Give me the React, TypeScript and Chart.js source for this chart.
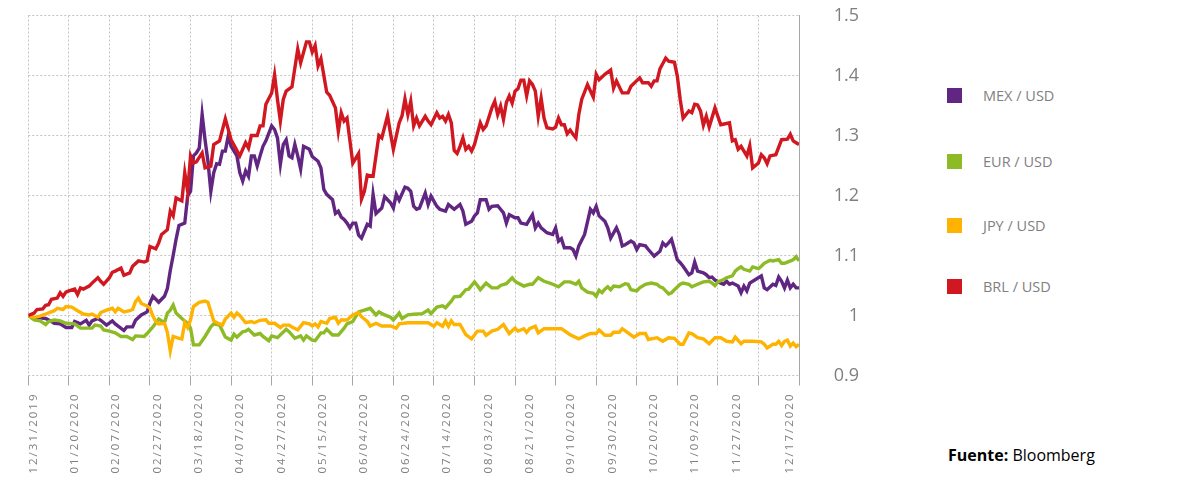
import React, { useEffect, useRef } from 'react';
import { Chart, registerables } from 'chart.js';

Chart.register(...registerables);

// ---- Data ----
const TICK_LABELS = [
  '12/31/2019', '01/20/2020', '02/07/2020', '02/27/2020', '03/18/2020', '04/07/2020',
  '04/27/2020', '05/15/2020', '06/04/2020', '06/24/2020', '07/14/2020', '08/03/2020',
  '08/21/2020', '09/10/2020', '09/30/2020', '10/20/2020', '11/09/2020', '11/27/2020', '12/17/2020',
];
const DAYS_PER_TICK = 14; // business days between labels
const LAST_DAY = 266;

const SERIES_NAMES = ['MEX / USD', 'EUR / USD', 'JPY / USD', 'BRL / USD'];
const SERIES_COLORS = ['#612582', '#8cbb26', '#fdb300', '#d1171f'];

const MEX_DAY = [0,2,4,6,8,9,11,13,15,16,18,20,21,22,24,25,27,29,30,33,34,36,37,39,41,42,43,45,47,48,49,50,51,52,54,55,56,57,58,59,60,61,62,63,64,65,66,67,68,69,70,72,73,74,75,76,77,78,79,80,81,82,84,85,86,87,88,89,90,91,92,93,94,95,97,98,100,101,102,103,105,106,107,108,109,110,111,112,113,114,115,117,118,119,120,122,123,125,126,127,128,130,131,132,133,134,135,137,138,139,141,142,144,145,147,149,150,151,153,154,155,156,158,159,160,162,163,164,165,166,168,169,170,172,173,174,175,176,177,179,181,182,183,184,185,187,188,189,190,192,194,195,196,197,199,200,201,203,204,205,206,208,209,210,211,213,214,216,218,219,220,221,222,224,225,226,228,229,230,231,233,234,235,236,237,239,240,241,242,243,245,246,247,248,249,251,253,254,255,257,258,259,260,261,262,263,264,265,266];
const MEX = [1.000,0.996,0.996,0.995,0.990,0.987,0.986,0.980,0.980,0.990,0.986,0.992,0.984,0.991,0.995,0.992,0.984,0.991,0.986,0.975,0.981,0.981,0.992,1.001,1.006,1.021,1.032,1.022,1.032,1.045,1.075,1.100,1.127,1.150,1.154,1.199,1.207,1.266,1.271,1.279,1.335,1.293,1.257,1.207,1.238,1.253,1.252,1.274,1.274,1.299,1.282,1.266,1.238,1.224,1.241,1.232,1.266,1.266,1.249,1.266,1.282,1.291,1.316,1.310,1.296,1.252,1.285,1.293,1.266,1.263,1.285,1.266,1.244,1.282,1.277,1.265,1.257,1.246,1.210,1.202,1.193,1.170,1.174,1.164,1.160,1.154,1.146,1.154,1.154,1.134,1.129,1.152,1.149,1.202,1.170,1.179,1.198,1.188,1.179,1.202,1.192,1.214,1.212,1.207,1.182,1.177,1.179,1.204,1.185,1.199,1.182,1.177,1.174,1.185,1.177,1.185,1.174,1.152,1.157,1.166,1.171,1.193,1.193,1.177,1.182,1.183,1.177,1.171,1.154,1.168,1.163,1.163,1.154,1.152,1.160,1.168,1.146,1.154,1.146,1.138,1.135,1.146,1.124,1.128,1.113,1.113,1.110,1.099,1.116,1.135,1.177,1.171,1.182,1.166,1.157,1.146,1.129,1.146,1.135,1.116,1.118,1.124,1.121,1.110,1.118,1.116,1.110,1.099,1.107,1.121,1.116,1.121,1.127,1.093,1.088,1.082,1.068,1.071,1.089,1.074,1.071,1.068,1.063,1.064,1.059,1.054,1.052,1.057,1.052,1.054,1.049,1.038,1.049,1.041,1.054,1.060,1.066,1.046,1.043,1.052,1.050,1.064,1.057,1.046,1.059,1.046,1.052,1.046,1.046];

const EUR_DAY = [0,2,4,6,7,9,11,13,16,18,22,23,25,26,28,30,32,34,36,37,40,41,43,45,47,48,49,50,51,53,55,56,57,59,61,63,64,66,68,70,71,72,74,75,76,78,80,81,83,84,86,89,90,92,94,95,96,98,99,101,102,103,105,107,109,110,112,114,116,118,120,121,123,125,126,128,129,131,133,136,138,139,141,143,144,146,147,149,151,152,154,155,156,158,160,162,163,165,167,168,169,171,173,174,176,178,180,181,183,185,187,189,190,191,193,195,196,197,198,199,200,201,202,204,206,207,208,210,211,213,215,217,218,219,221,222,223,225,226,228,229,231,233,235,236,237,238,240,241,243,244,245,246,247,249,250,252,253,254,256,257,259,260,261,262,264,265,266];
const EUR = [1.000,0.9925,0.991,0.985,0.990,0.9925,0.991,0.987,0.986,0.979,0.979,0.984,0.9825,0.976,0.974,0.971,0.965,0.965,0.960,0.966,0.965,0.970,0.981,0.994,0.988,1.004,1.009,1.0175,1.004,0.995,0.987,0.979,0.951,0.951,0.965,0.981,0.986,0.984,0.964,0.959,0.969,0.964,0.973,0.974,0.977,0.9675,0.970,0.965,0.958,0.966,0.963,0.977,0.973,0.962,0.966,0.959,0.966,0.959,0.958,0.971,0.971,0.977,0.9675,0.9675,0.979,0.986,0.990,1.006,1.009,1.012,1.001,1.006,1.001,0.997,0.9925,1.004,0.995,1.001,1.002,1.003,1.009,1.003,1.014,1.016,1.013,1.024,1.031,1.032,1.043,1.044,1.056,1.050,1.043,1.054,1.046,1.046,1.050,1.053,1.063,1.057,1.054,1.049,1.052,1.052,1.063,1.057,1.054,1.052,1.048,1.056,1.056,1.052,1.057,1.046,1.039,1.037,1.032,1.042,1.038,1.044,1.048,1.043,1.049,1.048,1.053,1.052,1.043,1.041,1.046,1.052,1.054,1.052,1.048,1.046,1.036,1.038,1.043,1.052,1.054,1.052,1.048,1.052,1.056,1.057,1.054,1.050,1.056,1.060,1.063,1.066,1.074,1.078,1.081,1.077,1.074,1.081,1.078,1.082,1.087,1.092,1.091,1.093,1.087,1.087,1.089,1.093,1.098,1.091];

const JPY_DAY = [0,2,4,6,9,10,12,13,15,17,19,21,22,24,25,27,29,30,31,33,35,36,37,38,39,41,42,43,44,45,47,48,49,50,52,53,54,55,56,57,59,61,62,64,66,67,68,70,71,72,73,75,77,78,80,82,83,85,87,88,90,91,93,95,97,98,99,100,101,103,104,106,107,108,110,112,114,115,117,118,120,122,125,127,128,131,138,140,141,143,144,145,146,147,149,151,153,155,157,158,160,162,164,166,168,169,171,172,173,175,176,178,180,184,187,190,192,194,196,197,199,201,202,204,205,207,209,211,213,214,217,219,221,223,225,226,228,229,231,233,235,237,239,241,243,244,246,247,250,253,254,255,257,258,259,260,261,262,263,264,265,266];
const JPY = [1.000,0.997,0.999,1.0025,1.008,1.012,1.010,1.015,1.014,1.008,1.0025,1.001,1.0025,0.997,1.005,1.009,1.012,1.006,1.012,1.006,1.008,1.010,1.023,1.029,1.020,1.016,1.012,0.999,0.990,0.986,0.987,0.972,0.941,0.965,0.962,0.961,0.988,0.980,0.993,1.015,1.022,1.024,1.022,0.991,0.986,0.984,0.994,1.004,0.997,1.004,1.000,0.988,0.990,0.988,0.992,0.993,0.987,0.987,0.980,0.984,0.984,0.981,0.976,0.988,0.986,0.9825,0.986,0.981,0.990,0.987,0.995,0.997,0.987,0.9925,0.9925,1.001,1.0047,0.998,0.990,0.9825,0.987,0.9825,0.9825,0.979,0.986,0.988,0.988,0.982,0.988,0.982,0.991,0.982,0.991,0.985,0.985,0.968,0.961,0.974,0.974,0.967,0.974,0.977,0.985,0.970,0.979,0.974,0.978,0.972,0.978,0.982,0.971,0.978,0.978,0.978,0.968,0.961,0.966,0.970,0.970,0.976,0.967,0.967,0.972,0.972,0.978,0.971,0.964,0.970,0.970,0.960,0.963,0.957,0.963,0.962,0.952,0.952,0.971,0.970,0.963,0.961,0.953,0.963,0.963,0.957,0.956,0.964,0.953,0.957,0.957,0.956,0.952,0.946,0.952,0.952,0.957,0.950,0.957,0.959,0.949,0.954,0.948,0.952];

const BRL_DAY = [0,2,3,5,6,7,8,10,11,12,13,14,16,17,18,19,21,22,24,25,26,28,29,30,32,33,35,36,38,40,41,42,44,45,46,48,49,50,51,53,54,55,56,57,58,60,61,63,64,66,68,70,73,75,76,77,79,80,81,82,84,85,86,87,88,89,91,93,94,96,97,98,99,100,101,103,104,106,107,108,109,110,112,114,115,116,117,119,121,122,124,125,126,128,129,130,131,132,133,134,135,137,138,139,141,142,143,144,145,146,147,148,149,150,151,152,153,154,156,157,158,160,161,162,163,164,165,166,167,168,169,170,171,172,173,174,175,176,177,178,179,181,182,183,184,185,186,187,188,189,190,191,193,195,196,197,199,201,202,203,205,207,208,211,212,214,215,216,217,218,219,220,221,223,224,225,226,228,229,230,231,232,233,234,235,237,239,241,242,243,244,245,246,248,249,250,252,253,254,255,256,258,260,262,263,264,265,266];
const BRL = [1.000,1.004,1.010,1.011,1.017,1.018,1.027,1.029,1.038,1.032,1.039,1.041,1.044,1.035,1.046,1.044,1.049,1.054,1.063,1.057,1.052,1.063,1.072,1.074,1.079,1.067,1.071,1.082,1.091,1.089,1.091,1.115,1.111,1.121,1.135,1.143,1.174,1.166,1.196,1.191,1.238,1.207,1.266,1.254,1.256,1.271,1.246,1.249,1.285,1.291,1.328,1.293,1.266,1.288,1.279,1.300,1.300,1.316,1.316,1.352,1.371,1.401,1.360,1.324,1.360,1.374,1.381,1.444,1.421,1.456,1.456,1.439,1.450,1.416,1.428,1.372,1.367,1.346,1.307,1.338,1.324,1.329,1.254,1.270,1.194,1.207,1.234,1.232,1.300,1.296,1.333,1.304,1.277,1.321,1.333,1.361,1.335,1.357,1.316,1.329,1.316,1.332,1.324,1.318,1.338,1.329,1.332,1.324,1.335,1.321,1.275,1.270,1.282,1.296,1.277,1.282,1.274,1.285,1.321,1.310,1.316,1.346,1.357,1.335,1.349,1.327,1.355,1.366,1.354,1.374,1.378,1.392,1.392,1.366,1.391,1.385,1.374,1.332,1.362,1.329,1.313,1.311,1.314,1.329,1.318,1.318,1.303,1.309,1.302,1.296,1.335,1.360,1.385,1.364,1.402,1.393,1.402,1.409,1.379,1.391,1.371,1.371,1.382,1.396,1.388,1.388,1.382,1.391,1.391,1.411,1.420,1.429,1.424,1.422,1.399,1.360,1.329,1.341,1.338,1.352,1.351,1.341,1.317,1.332,1.314,1.346,1.318,1.320,1.321,1.291,1.293,1.277,1.282,1.266,1.283,1.246,1.254,1.268,1.263,1.253,1.266,1.268,1.293,1.294,1.302,1.291,1.288,1.285];

const Y_MIN = 0.9;
const Y_MAX = 1.5;
const Y_STEP = 0.1;

// ---- Styling constants ----
const GRID_COLOR = '#c4c4c4';
const AXIS_COLOR = '#a6a6a6';
const TEXT_GREY = '#7f7f7f';

const toPoints = (days: number[], vals: number[]) => days.map((d, i) => ({ x: d, y: vals[i] }));

const xLabelPlugin = {
  id: 'xLabels',
  afterDraw(chart: any) {
    const { ctx, chartArea, scales } = chart;
    const xs = scales.x;
    ctx.save();
    ctx.font = '11.5px "Open Sans"';
    ctx.fillStyle = TEXT_GREY;
    try { (ctx as any).letterSpacing = '2px'; } catch (e) {}
    ctx.textAlign = 'right';
    ctx.textBaseline = 'middle';
    const last = TICK_LABELS.length - 1;
    TICK_LABELS.forEach((lab, i) => {
      // labels sit slightly to the right of their tick marks; the last one is set near the right edge
      const shift = i === last ? 31 : 5 + i * 0.8;
      const x = xs.getPixelForValue(i * DAYS_PER_TICK) + shift;
      ctx.save();
      ctx.translate(x, chartArea.bottom + 17);
      ctx.rotate(-Math.PI / 2);
      ctx.fillText(lab, 0, 0);
      ctx.restore();
    });
    ctx.restore();
  },
};

export default function App() {
  const ref = useRef<HTMLCanvasElement>(null);

  useEffect(() => {
    const tickValues: number[] = [];
    for (let v = 0; v <= LAST_DAY; v += DAYS_PER_TICK) tickValues.push(v);

    const series = [
      { name: SERIES_NAMES[0], days: MEX_DAY, vals: MEX, order: 3 },
      { name: SERIES_NAMES[1], days: EUR_DAY, vals: EUR, order: 2 },
      { name: SERIES_NAMES[2], days: JPY_DAY, vals: JPY, order: 1 },
      { name: SERIES_NAMES[3], days: BRL_DAY, vals: BRL, order: 0 },
    ];

    const chart = new Chart(ref.current as HTMLCanvasElement, {
      type: 'line',
      data: {
        datasets: series.map((s, i) => ({
          label: s.name,
          data: toPoints(s.days, s.vals),
          borderColor: SERIES_COLORS[i],
          backgroundColor: SERIES_COLORS[i],
          borderWidth: 3.4,
          pointRadius: 0,
          tension: 0,
          fill: false,
          order: s.order,
        })),
      },
      options: {
        responsive: false,
        animation: false,
        events: [],
        layout: { padding: { left: 28.3, top: 15.5, right: 21, bottom: 0 } },
        plugins: { legend: { display: false }, tooltip: { enabled: false } },
        scales: {
          x: {
            type: 'linear',
            min: 0,
            max: LAST_DAY,
            afterBuildTicks: (scale: any) => {
              scale.ticks = tickValues.map((v) => ({ value: v }));
            },
            ticks: { display: false },
            grid: {
              color: GRID_COLOR,
              lineWidth: 1,
              drawTicks: true,
              tickLength: 10,
              tickColor: AXIS_COLOR,
              tickBorderDash: [],
            },
            border: { display: false, dash: [2, 2] },
            afterFit: (scale: any) => {
              scale.height = 480 - 375.5;
            },
          },
          y: {
            type: 'linear',
            position: 'right',
            min: Y_MIN,
            max: Y_MAX,
            ticks: {
              stepSize: Y_STEP,
              color: TEXT_GREY,
              font: { family: '"Open Sans"', size: 18 },
              padding: 0,
              crossAlign: 'far',
              callback: (v: any) => String(Math.round(Number(v) * 10) / 10),
            },
            grid: {
              color: GRID_COLOR,
              lineWidth: 1,
              drawTicks: true,
              tickLength: 36,
              tickColor: 'rgba(0,0,0,0)',
            },
            border: { display: true, color: AXIS_COLOR, width: 1, dash: [2, 2] },
            afterFit: (scale: any) => {
              scale.width = 60;
            },
          },
        },
      },
      plugins: [xLabelPlugin],
    } as any);

    return () => chart.destroy();
  }, []);

  const legendTops = [88, 154, 218, 279];

  return (
    <div
      style={{
        position: 'absolute',
        left: 0,
        top: 0,
        width: 1186,
        height: 480,
        background: '#ffffff',
        fontFamily: '"Open Sans", sans-serif',
        overflow: 'hidden',
      }}
    >
      <canvas
        ref={ref}
        width={880}
        height={480}
        style={{ position: 'absolute', left: 0, top: 0, width: 880, height: 480 }}
      />
      {SERIES_NAMES.map((name, i) => (
        <React.Fragment key={name}>
          <div
            style={{
              position: 'absolute',
              left: 947,
              top: legendTops[i],
              width: 15,
              height: 15,
              background: SERIES_COLORS[i],
            }}
          />
          <div
            style={{
              position: 'absolute',
              left: 983,
              top: legendTops[i],
              fontSize: 14.5,
              lineHeight: '15px',
              color: TEXT_GREY,
              whiteSpace: 'nowrap',
            }}
          >
            {name}
          </div>
        </React.Fragment>
      ))}
      <div
        style={{
          position: 'absolute',
          left: 948,
          top: 447,
          fontSize: 16,
          lineHeight: '16px',
          color: '#000000',
          whiteSpace: 'nowrap',
        }}
      >
        <b>Fuente:</b> Bloomberg
      </div>
    </div>
  );
}
